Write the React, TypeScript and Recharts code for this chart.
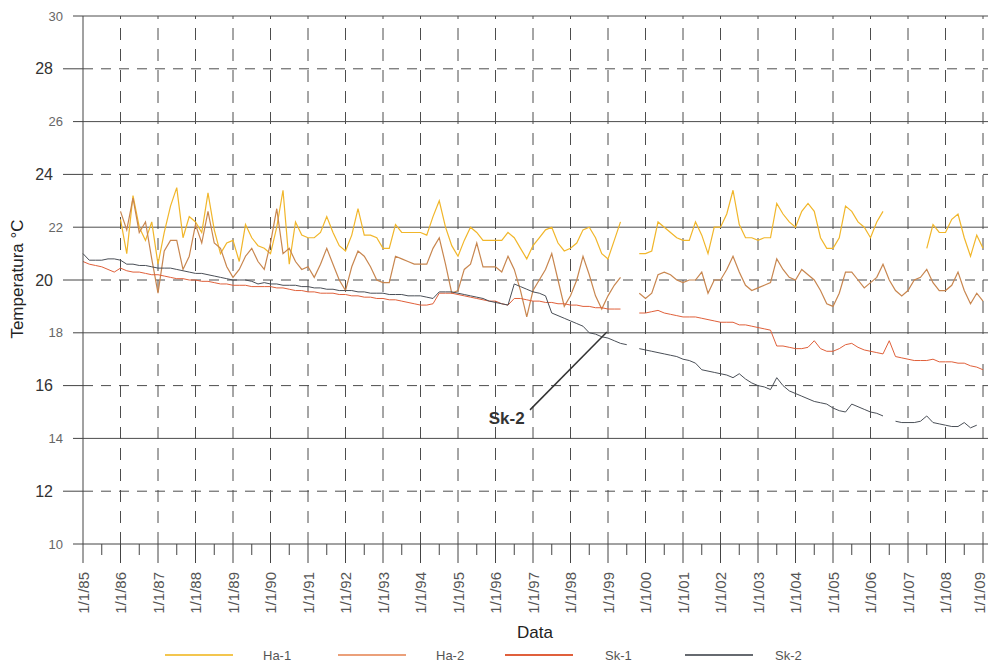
import { LineChart, Line, XAxis, YAxis, ReferenceLine, ReferenceDot } from 'recharts';

const N = null;

const yearTicks = [
  1985, 1986, 1987, 1988, 1989, 1990, 1991, 1992, 1993, 1994, 1995, 1996, 1997,
  1998, 1999, 2000, 2001, 2002, 2003, 2004, 2005, 2006, 2007, 2008, 2009,
];
const yearLabels = [
  '1/1/85', '1/1/86', '1/1/87', '1/1/88', '1/1/89', '1/1/90', '1/1/91', '1/1/92', '1/1/93',
  '1/1/94', '1/1/95', '1/1/96', '1/1/97', '1/1/98', '1/1/99', '1/1/00', '1/1/01', '1/1/02',
  '1/1/03', '1/1/04', '1/1/05', '1/1/06', '1/1/07', '1/1/08', '1/1/09',
];
const tempTicks = [10, 12, 14, 16, 18, 20, 22, 24, 26, 28, 30];
const solidTemps = [10, 14, 18, 22, 26, 30];

// one value every 2 months, 1/1/85 .. 1/1/09 (6 per row = one year)
const ha1 = [
  N, N, N, N, N, N,
  22.3, 21.0, 23.2, 22.0, 21.5, 22.2,
  20.6, 21.8, 22.8, 23.5, 21.6, 22.4,
  22.2, 21.8, 23.3, 21.9, 21.0, 21.4,
  21.5, 20.7, 22.1, 21.6, 21.3, 21.2,
  21.0, 22.0, 23.4, 20.6, 22.2, 21.7,
  21.6, 21.6, 21.8, 22.4, 21.8, 21.3,
  21.1, 21.7, 22.7, 21.7, 21.7, 21.6,
  21.2, 21.2, 22.1, 21.8, 21.8, 21.8,
  21.8, 21.7, 22.4, 23.0, 22.0, 21.3,
  20.9, 21.5, 22.0, 21.8, 21.5, 21.5,
  21.5, 21.5, 21.8, 21.6, 21.2, 20.8,
  21.3, 21.6, 21.9, 22.0, 21.4, 21.1,
  21.2, 21.4, 21.9, 22.0, 21.6, 21.0,
  20.8, 21.5, 22.2, N, N, 21.0,
  21.0, 21.1, 22.2, 22.0, 21.8, 21.6,
  21.5, 21.5, 22.2, 21.7, 21.0, 22.0,
  22.0, 22.5, 23.4, 22.1, 21.6, 21.6,
  21.5, 21.6, 21.6, 22.9, 22.5, 22.2,
  22.0, 22.6, 22.9, 22.6, 21.6, 21.2,
  21.2, 21.6, 22.8, 22.6, 22.2, 22.0,
  21.6, 22.2, 22.6, N, N, N,
  N, N, N, 21.2, 22.1, 21.8,
  21.8, 22.3, 22.5, 21.6, 20.9, 21.7,
  21.2,
];

const ha2 = [
  N, N, N, N, N, N,
  22.6, 21.9, 23.1, 21.8, 22.2, 20.8,
  19.5, 21.1, 21.5, 21.5, 20.4, 20.9,
  22.1, 21.4, 22.6, 21.4, 21.2, 20.5,
  20.1, 20.4, 20.9, 21.2, 20.7, 20.4,
  21.4, 22.7, 21.0, 21.2, 20.7, 20.4,
  20.5, 20.1, 20.6, 21.2, 20.6, 20.0,
  19.6, 20.5, 21.1, 20.9, 20.5, 20.0,
  19.9, 19.9, 20.9, 20.8, 20.7, 20.6,
  20.6, 20.6, 21.2, 21.6, 20.6, 19.5,
  19.6, 20.4, 20.6, 21.4, 20.5, 20.5,
  20.5, 20.3, 20.9, 20.4, 19.6, 18.6,
  19.6, 20.0, 20.4, 21.0, 20.0, 19.0,
  19.4, 20.0, 20.9, 20.2, 19.4, 18.9,
  19.4, 19.8, 20.1, N, N, 19.5,
  19.3, 19.5, 20.2, 20.3, 20.2, 20.0,
  19.9, 20.0, 20.0, 20.3, 19.5, 20.0,
  20.0, 20.4, 20.9, 20.3, 19.8, 19.6,
  19.7, 19.8, 19.9, 20.8, 20.4, 20.1,
  20.0, 20.4, 20.2, 20.0, 19.6, 19.1,
  19.0, 19.5, 20.3, 20.3, 20.0, 19.7,
  19.9, 20.1, 20.6, 20.0, 19.6, 19.4,
  19.6, 20.0, 20.1, 20.4, 19.9, 19.6,
  19.6, 19.8, 20.3, 19.6, 19.1, 19.5,
  19.2,
];

const sk1 = [
  20.7, 20.6, 20.55, 20.5, 20.4, 20.3,
  20.45, 20.35, 20.3, 20.3, 20.25, 20.2,
  20.2, 20.15, 20.1, 20.05, 20.05, 20.0,
  20.0, 19.95, 19.95, 19.9, 19.85, 19.85,
  19.8, 19.8, 19.8, 19.75, 19.75, 19.75,
  19.75, 19.7, 19.7, 19.65, 19.6, 19.6,
  19.55, 19.55, 19.5, 19.5, 19.5, 19.45,
  19.45, 19.4, 19.4, 19.35, 19.35, 19.3,
  19.3, 19.25, 19.25, 19.2, 19.15, 19.1,
  19.05, 19.05, 19.1, 19.5, 19.5, 19.5,
  19.45, 19.4, 19.35, 19.3, 19.25, 19.2,
  19.2, 19.1, 19.05, 19.3, 19.3, 19.25,
  19.2, 19.2, 19.15, 19.15, 19.1, 19.1,
  19.05, 19.05, 19.0, 19.0, 18.95, 18.95,
  18.9, 18.9, 18.9, N, N, 18.75,
  18.75, 18.8, 18.85, 18.75, 18.7, 18.65,
  18.6, 18.6, 18.6, 18.55, 18.5, 18.45,
  18.4, 18.4, 18.4, 18.3, 18.3, 18.25,
  18.2, 18.15, 18.1, 17.5, 17.5, 17.45,
  17.4, 17.4, 17.45, 17.7, 17.4, 17.3,
  17.3, 17.4, 17.55, 17.6, 17.45, 17.35,
  17.3, 17.25, 17.2, 17.7, 17.1, 17.05,
  17.0, 16.95, 16.95, 16.95, 17.0, 16.9,
  16.9, 16.9, 16.85, 16.85, 16.75, 16.7,
  16.6,
];

const sk2 = [
  21.0, 20.75, 20.75, 20.75, 20.8, 20.8,
  20.75, 20.6, 20.6, 20.55, 20.55, 20.5,
  20.45, 20.45, 20.45, 20.4, 20.35, 20.3,
  20.25, 20.25, 20.2, 20.15, 20.1, 20.05,
  20.0, 20.0, 20.0, 19.95, 19.85, 19.9,
  19.85, 19.85, 19.8, 19.8, 19.8, 19.75,
  19.75, 19.7, 19.7, 19.65, 19.65, 19.6,
  19.6, 19.6, 19.55, 19.55, 19.5, 19.5,
  19.5, 19.45, 19.45, 19.45, 19.4, 19.4,
  19.4, 19.35, 19.3, 19.55, 19.55, 19.55,
  19.5, 19.45, 19.4, 19.35, 19.3, 19.2,
  19.15, 19.1, 19.05, 19.85, 19.75, 19.65,
  19.55, 19.5, 19.4, 18.75, 18.65, 18.55,
  18.45, 18.35, 18.25, 18.0, 17.95, 17.85,
  17.8, 17.7, 17.6, 17.55, N, 17.4,
  17.35, 17.3, 17.25, 17.2, 17.15, 17.1,
  17.0, 16.95, 16.85, 16.6, 16.55, 16.5,
  16.45, 16.4, 16.3, 16.45, 16.25, 16.1,
  16.0, 15.95, 15.85, 16.3, 16.0, 15.8,
  15.7, 15.6, 15.5, 15.4, 15.35, 15.3,
  15.15, 15.05, 15.0, 15.3, 15.2, 15.1,
  15.0, 14.95, 14.85, N, 14.65, 14.6,
  14.6, 14.6, 14.65, 14.85, 14.6, 14.55,
  14.5, 14.45, 14.45, 14.6, 14.4, 14.5,
  N,
];

const samplesPerYear = 6;
const data = ha1.map((v, i) => ({
  t: yearTicks[0] + i / samplesPerYear,
  ha1: v,
  ha2: ha2[i],
  sk1: sk1[i],
  sk2: sk2[i],
}));

const halfTicks = yearTicks.slice(0, -1).map((y) => y + 0.5);
const xTicks = [...yearTicks, ...halfTicks].sort((a, b) => a - b);

const legendItems = [
  { name: 'Ha-1', color: '#f3c64f', line: 165, text: 263 },
  { name: 'Ha-2', color: '#eba07a', line: 338, text: 436 },
  { name: 'Sk-1', color: '#e0603c', line: 505, text: 605 },
  { name: 'Sk-2', color: '#666a70', line: 685, text: 775 },
];

const font = '"Liberation Sans", Arial, sans-serif';

function XTick({ x, y, payload }: any) {
  const idx = yearTicks.indexOf(payload.value);
  if (idx < 0) {
    return <line x1={x} x2={x} y1={y} y2={y + 11} stroke="#444" />;
  }
  // keep the last label inside the picture
  const tx = idx === yearTicks.length - 1 ? x - 4 : x;
  return (
    <g>
      <line x1={x} x2={x} y1={y} y2={y + 19} stroke="#444" />
      <text
        transform={`translate(${tx},${y + 28}) rotate(-90)`}
        textAnchor="end"
        dominantBaseline="central"
        fontSize={15}
        fill="#555"
      >
        {yearLabels[idx]}
      </text>
    </g>
  );
}

function YTick({ x, y, payload }: any) {
  const solid = solidTemps.includes(payload.value);
  const len = solid ? 10 : 20;
  return (
    <g>
      <line x1={x} x2={x - len} y1={y} y2={y} stroke="#444" />
      <text
        x={x - len - 10}
        y={y}
        textAnchor="end"
        dominantBaseline="central"
        fontSize={solid ? 13 : 16}
        fill={solid ? '#666' : '#333'}
      >
        {payload.value}
      </text>
    </g>
  );
}

export default function App() {
  return (
    <div style={{ position: 'absolute', left: 0, top: 0, width: 988, height: 662, background: '#fff', fontFamily: font }}>
      <LineChart width={988} height={662} data={data} margin={{ top: 16, right: 0, bottom: 0, left: 8 }}>
        {yearTicks.slice(1).map((yr) => (
          <ReferenceLine key={'v' + yr} x={yr} stroke="#4d4d4d" strokeDasharray="12 9" />
        ))}
        {tempTicks.slice(1).map((t) => (
          <ReferenceLine
            key={'h' + t}
            y={t}
            stroke="#4d4d4d"
            strokeDasharray={solidTemps.includes(t) ? undefined : '10 8'}
          />
        ))}
        <XAxis
          dataKey="t"
          type="number"
          domain={[1985, 2009.133]}
          ticks={xTicks}
          interval={0}
          tickSize={0}
          tickMargin={0}
          tickLine={false}
          tick={<XTick />}
          height={118}
          axisLine={{ stroke: '#444' }}
          label={() => (
            <text x={535} y={632} textAnchor="middle" dominantBaseline="central" fontSize={17} fill="#222">
              Data
            </text>
          )}
        />
        <YAxis
          type="number"
          domain={[10, 30]}
          ticks={tempTicks}
          interval={0}
          width={75}
          tickSize={0}
          tickMargin={0}
          tickLine={false}
          tick={<YTick />}
          axisLine={{ stroke: '#444' }}
          label={() => (
            <text
              x={17}
              y={279}
              transform="rotate(-90 17 279)"
              textAnchor="middle"
              dominantBaseline="central"
              fontSize={17}
              fill="#222"
            >
              Temperatura °C
            </text>
          )}
        />
        <Line dataKey="ha1" type="linear" stroke="#f1b62a" strokeWidth={1.2} dot={false} isAnimationActive={false} />
        <Line dataKey="ha2" type="linear" stroke="#c8864f" strokeWidth={1.2} dot={false} isAnimationActive={false} />
        <Line dataKey="sk1" type="linear" stroke="#e0603a" strokeWidth={1} dot={false} isAnimationActive={false} />
        <Line dataKey="sk2" type="linear" stroke="#4a4f57" strokeWidth={1} dot={false} isAnimationActive={false} />
        <ReferenceLine
          segment={[
            { x: 1996.92, y: 15.08 },
            { x: 1998.97, y: 18.03 },
          ]}
          stroke="#333"
          strokeWidth={1.5}
        />
        <ReferenceDot
          x={1996.3}
          y={14.77}
          r={0}
          stroke="none"
          label={{ value: 'Sk-2', position: 'center', fill: '#333', fontSize: 17, fontWeight: 'bold' }}
        />
      </LineChart>
      {legendItems.map((it) => (
        <div key={it.name}>
          <div
            style={{
              position: 'absolute',
              left: it.line,
              top: 654,
              width: 68,
              height: 2,
              background: it.color,
            }}
          />
          <span style={{ position: 'absolute', left: it.text, top: 648, fontSize: 13, lineHeight: '16px', color: '#555' }}>
            {it.name}
          </span>
        </div>
      ))}
    </div>
  );
}
